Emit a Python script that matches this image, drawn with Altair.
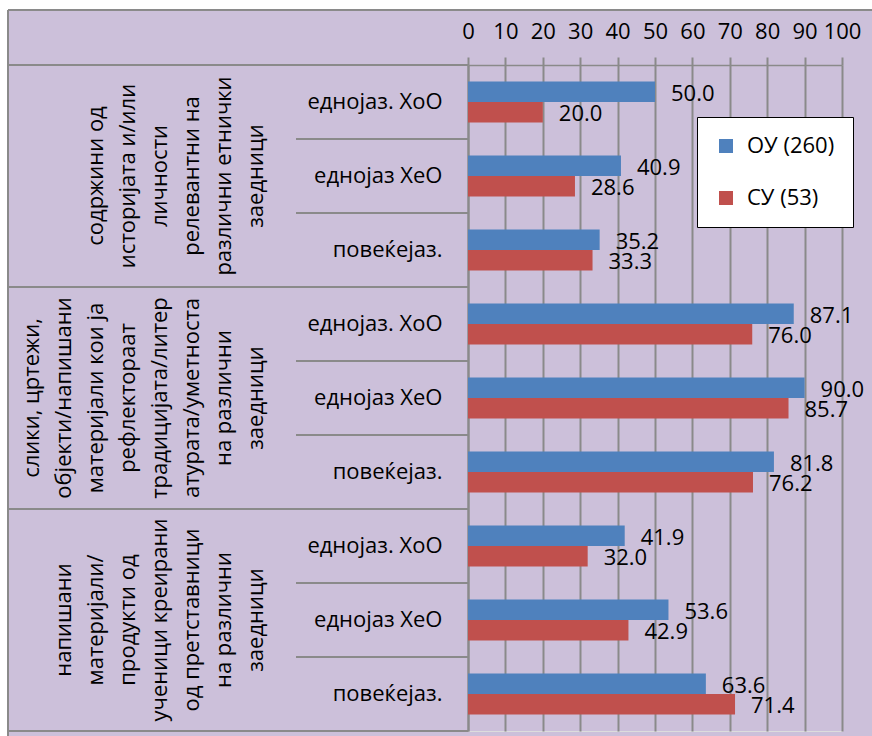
import altair as alt
import pandas as pd

FONT = "Open Sans"
GRAY = "#8A8A8A"

# --- data -------------------------------------------------------------
series = ["ОУ (260)", "СУ (53)"]
series_colors = ["#4F81BD", "#C0504D"]
subcategories = ["еднојаз. ХоО", "еднојаз ХеО", "повеќејаз."]
group_labels = [
    "содржини од\nисторијата и/или\nличности\nрелевантни на\nразлични етнички\nзаедници",
    "слики, цртежи,\nобјекти/напишани\nматеријали кои ја\nрефлектораат\nтрадицијата/литер\nатурата/уметноста\nна различни\nзаедници",
    "напишани\nматеријали/\nпродукти од\nученици креирани\nод претставници\nна различни\nзаедници",
]
ou_values = [50.0, 40.9, 35.2, 87.1, 90.0, 81.8, 41.9, 53.6, 63.6]
su_values = [20.0, 28.6, 33.3, 76.0, 85.7, 76.2, 32.0, 42.9, 71.4]
x_ticks = [0, 10, 20, 30, 40, 50, 60, 70, 80, 90, 100]

# --- tables -----------------------------------------------------------
row_keys = [f"{g}|{s}" for g in range(len(group_labels)) for s in subcategories]

bars = pd.DataFrame(
    [
        {"key": k, "series": name, "value": v, "label": f"{v:.1f}"}
        for name, vals in zip(series, [ou_values, su_values])
        for k, v in zip(row_keys, vals)
    ]
)

n_sub = len(subcategories)
outer_starts = pd.DataFrame({"key": row_keys[::n_sub]})
inner_starts = pd.DataFrame({"key": [k for i, k in enumerate(row_keys) if i % n_sub]})
last_row = pd.DataFrame({"key": [row_keys[-1]]})
groups = pd.DataFrame({
    "key": row_keys[1::n_sub],
    "text": group_labels,
    "lines": [len(t.split("\n")) for t in group_labels],
})
blank = pd.DataFrame({"a": [0]})

W, H = 374, 666
LINE_H = 32

# --- shared scales and axes --------------------------------------------
y_scale = alt.Scale(domain=row_keys, paddingInner=0, paddingOuter=0)
y_axis = alt.Axis(
    orient="left", ticks=False, labelPadding=26, labelAlign="right",
    labelBaseline="middle", labelFontSize=22, labelFont=FONT,
    labelColor="black", domainColor=GRAY, domainWidth=2,
    labelExpr="split(datum.label, '|')[1]", grid=False,
)
x_scale = alt.Scale(domain=[0, 100], nice=False)
x_axis = alt.Axis(
    orient="top", values=x_ticks, grid=True, gridColor=GRAY, gridWidth=2,
    domainColor=GRAY, domainWidth=1.5, tickColor=GRAY, tickWidth=2,
    tickSize=8, labelFontSize=22, labelFont=FONT, labelColor="black",
    labelPadding=14, labelOverlap=False, labelBound=False, labelFlush=False,
)


def y_at(band_position=0.5):
    return alt.Y("key:N", scale=y_scale, sort=row_keys, axis=y_axis,
                 title=None, bandPosition=band_position)


x_val = alt.X("value:Q", scale=x_scale, axis=x_axis, title=None)
y_off = alt.YOffset(
    "series:N", sort=series,
    scale=alt.Scale(domain=series, paddingInner=0, paddingOuter=0.8))

# frame of the figure: white margin and gray border
margin_left = alt.Chart(blank).mark_rect(color="white").encode(
    x=alt.value(-470), x2=alt.value(-460), y=alt.value(-70), y2=alt.value(700))
margin_top = alt.Chart(blank).mark_rect(color="white").encode(
    x=alt.value(-470), x2=alt.value(420), y=alt.value(-70), y2=alt.value(-55))
border_top = alt.Chart(blank).mark_rule(color=GRAY, strokeWidth=2).encode(
    x=alt.value(-460), x2=alt.value(420), y=alt.value(-55))
border_left = alt.Chart(blank).mark_rule(color=GRAY, strokeWidth=2).encode(
    x=alt.value(-460), y=alt.value(-55), y2=alt.value(700))

# table lines of the category column
outer_lines = alt.Chart(outer_starts).mark_rule(color=GRAY, strokeWidth=2).encode(
    y=y_at(0), x=alt.value(-460), x2=alt.value(0))
inner_lines = alt.Chart(inner_starts).mark_rule(color=GRAY, strokeWidth=2).encode(
    y=y_at(0), x=alt.value(-172), x2=alt.value(0))
bottom_line = alt.Chart(last_row).mark_rule(color=GRAY, strokeWidth=2).encode(
    y=y_at(1), x=alt.value(-460), x2=alt.value(0))

# rotated group names; each block is shifted so its last line sits in the
# same column (dy runs across the lines once the text is rotated)
group_text = alt.Chart(groups).mark_text(
    angle=270, align="center", baseline="alphabetic", lineBreak="\n",
    lineHeight=LINE_H, fontSize=22, font=FONT, color="black",
    dy=alt.expr(f"-{LINE_H} * (datum.lines - 1)"),
).encode(y=y_at(), x=alt.value(-205), text="text:N")

bar_layer = alt.Chart(bars).mark_bar().encode(
    y=y_at(),
    yOffset=y_off,
    x=x_val,
    color=alt.Color(
        "series:N", sort=series,
        scale=alt.Scale(domain=series, range=series_colors),
        legend=alt.Legend(
            orient="none", legendX=229, legendY=52, title=None,
            fillColor="white", strokeColor="black", padding=18,
            symbolType="square", symbolSize=196, symbolStrokeWidth=0,
            labelFontSize=22, labelFont=FONT, labelColor="black",
            rowPadding=30, labelOffset=10,
        ),
    ),
)

value_labels = alt.Chart(bars).mark_text(
    align="left", baseline="middle", dx=16, dy=2, fontSize=22, font=FONT,
    color="black",
).encode(
    y=y_at(),
    yOffset=y_off,
    x=x_val,
    text="label:N",
)

chart = alt.layer(
    margin_left, margin_top, border_top, border_left,
    outer_lines, inner_lines, bottom_line, group_text,
    bar_layer, value_labels,
).properties(
    width=W, height=H,
    autosize=alt.AutoSizeParams(type="none"),
    padding={"left": 468, "top": 65, "right": 30, "bottom": 5},
    background="#CCC0DA",
).configure_view(
    fill="white", stroke="transparent",
).configure_legend(
    strokeWidth=2,
).configure(font=FONT)

chart.save("out.html", embed_options={"renderer": "svg", "actions": False})
